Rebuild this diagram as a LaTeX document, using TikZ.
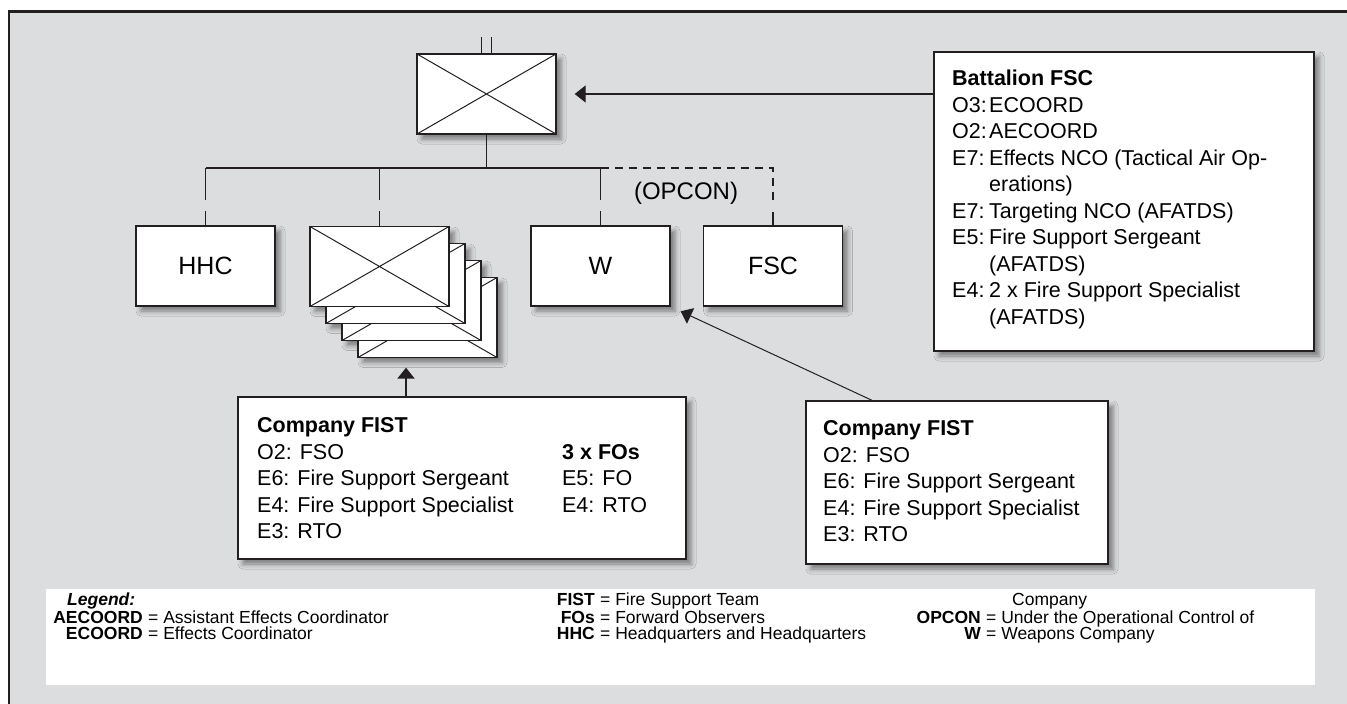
\documentclass[tikz,border=0pt]{standalone}
\usepackage{fontspec}
\setmainfont{Liberation Sans}
\usetikzlibrary{arrows.meta,shadows.blur,calc}
\definecolor{bggray}{RGB}{220,221,223}
\definecolor{ink}{RGB}{35,31,32}
\begin{document}
\begin{tikzpicture}[x=1pt,y=-1pt,
  shad/.style={blur shadow={shadow xshift=5pt,shadow yshift=-5pt,shadow blur radius=5pt,shadow opacity=45}},
  boxbase/.style={draw=ink,line width=1.3pt,fill=white,inner sep=0pt},
  box/.style={boxbase,shad},
  xcross/.style={path picture={\draw[ink,line width=1pt] (path picture bounding box.north west) -- (path picture bounding box.south east) (path picture bounding box.south west) -- (path picture bounding box.north east);}},
  unit/.style={minimum width=139pt,minimum height=80pt},
  big/.style={font=\fontsize{25}{30}\selectfont},
  txt/.style={inner sep=0pt,font=\fontsize{21.5}{26.5}\selectfont,align=left},
  lg/.style={inner sep=0pt,font=\fontsize{17.5}{17}\selectfont},
  conn/.style={draw=ink,line width=1.3pt},
  brk/.style={conn,dash pattern=on 32pt off 11pt on 40pt off 0pt},
  opc/.style={conn,dash pattern=on 8pt off 6pt},
  arr/.style={conn,-{Triangle[length=11pt,width=17pt]}}]
\useasboundingbox (0,0) rectangle (1347,704);
\fill[white] (0,0) rectangle (1347,704);
\fill[bggray] (9,11.5) rectangle (1347,704);
\draw[ink,line width=3pt] (8,11.5) -- (1347,11.5);
\draw[ink,line width=2pt] (9,10) -- (9,704);

% legend background
\node[fill=white,minimum width=1269pt,minimum height=96pt,inner sep=0pt] (leg) at (680.5,637) {};

% top battalion symbol
\node[box,unit,xcross] (tb) at (486.5,94) {};
\draw[conn] ([xshift=-5pt]tb.north) -- ++(0,-16);
\draw[conn] ([xshift=5pt]tb.north) -- ++(0,-16);

% children
\node[box,unit,big] (hhc) at (205.5,266) {HHC};
\path[shad] (310,227) -- (449,227) -- (449,244) -- (465,244) -- (465,261) -- (481,261) -- (481,278) -- (497,278) -- (497,357.5) -- (358,357.5) -- (358,340.5) -- (342,340.5) -- (342,323.5) -- (326,323.5) -- (326,306.5) -- (310,306.5) -- cycle;
\node[boxbase,unit,xcross] (s4) at (427.5,317.5) {};
\node[boxbase,unit,xcross] (s3) at (411.5,300.5) {};
\node[boxbase,unit,xcross] (s2) at (395.5,283.5) {};
\node[boxbase,unit,xcross] (s1) at (379.5,266.5) {};
\node[box,unit,big] (w) at (600.5,266) {W};
\node[box,unit,big] (fsc) at (773,266) {FSC};

\node[font=\fontsize{24}{28}\selectfont,inner sep=0pt] (opcon) at (686,193) {(OPCON)};

% tree connectors
\coordinate (bar) at (0,168);
\draw[conn,line width=1.8pt] (tb.south) -- (tb.south |- bar);
\draw[conn] (hhc.north |- bar) -- (w.north |- bar);
\draw[brk] (hhc.north |- bar) -- (hhc.north);
\draw[brk] (s1.north |- bar) -- (s1.north);
\draw[brk] (w.north |- bar) -- (w.north);
\draw[opc] (w.north |- bar) -- (fsc.north |- bar) -- ++(0,32);
\draw[conn] (fsc.north) -- ++(0,-13);

% Battalion FSC box
\node[box,minimum width=380pt,minimum height=299pt] (bfsc) at (1124,201.5) {};
\node[txt,anchor=north west] (bfsct) at (952,67) {\begin{tabular}{@{}p{37pt}@{}l@{}}
\multicolumn{2}{@{}l@{}}{\textbf{Battalion FSC}}\\
O3:&ECOORD\\
O2:&AECOORD\\
E7:&Effects NCO (Tactical Air Op-\\
&erations)\\
E7:&Targeting NCO (AFATDS)\\
E5:&Fire Support Sergeant\\
&(AFATDS)\\
E4:&2 x Fire Support Specialist\\
&(AFATDS)
\end{tabular}};

% Company FIST boxes
\node[box,minimum width=448pt,minimum height=162pt] (fist1) at (462,478) {};
\node[txt,anchor=north west] (fist1t) at (257,414) {\begin{tabular}{@{}p{305pt}@{}l@{}}
\textbf{Company FIST}&\\
O2: FSO&\textbf{3 x FOs}\\
E6: Fire Support Sergeant&E5: FO\\
E4: Fire Support Specialist&E4: RTO\\
E3: RTO&
\end{tabular}};

\node[box,minimum width=302pt,minimum height=163pt] (fist2) at (957,482.5) {};
\node[txt,anchor=north west] (fist2t) at (823,417) {\begin{tabular}{@{}l@{}}
\textbf{Company FIST}\\
O2: FSO\\
E6: Fire Support Sergeant\\
E4: Fire Support Specialist\\
E3: RTO
\end{tabular}};

% arrows
\draw[arr,shorten >=18pt] (bfsc.west |- tb.east) -- (tb.east);
\coordinate (fa) at (406,0);
\draw[arr,line width=2pt,shorten >=9.5pt] (fist1.north -| fa) -- (s4.south -| fa);
\coordinate (fb) at (872,0);
\draw[arr,line width=1pt,shorten >=11pt] (fist2.north -| fb) -- (w.south east);

% legend
\node[lg,anchor=base west] (lgh) at (67,605) {\textbf{\textit{Legend:}}};
\node[lg,anchor=base east] (la1) at (143,623) {\textbf{AECOORD}};
\node[lg,anchor=base west] (lt1) at ([xshift=5pt]la1.base east) {= Assistant Effects Coordinator};
\node[lg,anchor=base east] (la2) at (143,639) {\textbf{ECOORD}};
\node[lg,anchor=base west] (lt2) at ([xshift=5pt]la2.base east) {= Effects Coordinator};
\node[lg,anchor=base east] (lb1) at (595,605) {\textbf{FIST}};
\node[lg,anchor=base west] (lu1) at ([xshift=5pt]lb1.base east) {= Fire Support Team};
\node[lg,anchor=base east] (lb2) at (595,623) {\textbf{FOs}};
\node[lg,anchor=base west] (lu2) at ([xshift=5pt]lb2.base east) {= Forward Observers};
\node[lg,anchor=base east] (lb3) at (595,639) {\textbf{HHC}};
\node[lg,anchor=base west] (lu3) at ([xshift=5pt]lb3.base east) {= Headquarters and Headquarters};
\node[lg,anchor=base west] (lc0) at (1012,605) {Company};
\node[lg,anchor=base east] (lc2) at (981,623) {\textbf{OPCON}};
\node[lg,anchor=base west] (lv2) at ([xshift=5pt]lc2.base east) {= Under the Operational Control of};
\node[lg,anchor=base east] (lc3) at (981,639) {\textbf{W}};
\node[lg,anchor=base west] (lv3) at ([xshift=5pt]lc3.base east) {= Weapons Company};
\end{tikzpicture}
\end{document}
